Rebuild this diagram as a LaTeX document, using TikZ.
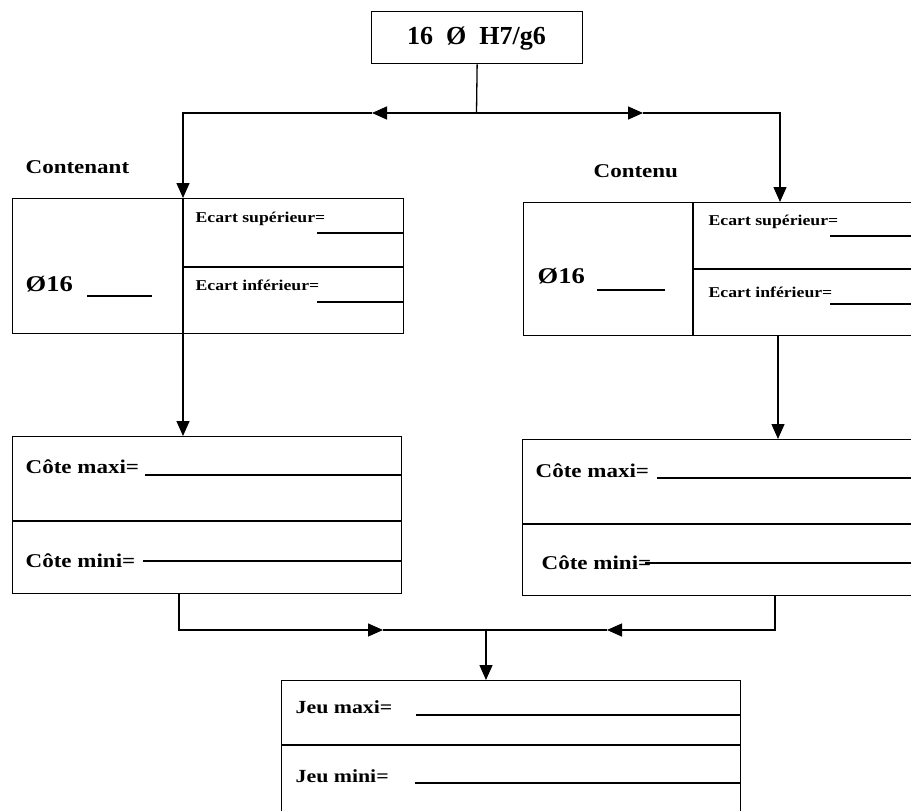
\documentclass[tikz,border=0pt]{standalone}
\usepackage{fontspec}
\setmainfont{Liberation Serif}
\usetikzlibrary{arrows.meta}
\newcommand{\hs}[1]{\scalebox{1.18}[1]{#1}}
\begin{document}
\begin{tikzpicture}[x=1pt,y=-1pt,line width=1.3pt,
  box/.style={draw,rectangle,inner sep=0pt,anchor=north west},
  lbs/.style={anchor=base west,inner sep=0pt,font=\bfseries\fontsize{15}{17}\selectfont},
  lbm/.style={anchor=base west,inner sep=0pt,font=\bfseries\fontsize{19.5}{22}\selectfont},
  lbj/.style={anchor=base west,inner sep=0pt,font=\bfseries\fontsize{18.5}{21}\selectfont},
  lbd/.style={anchor=base west,inner sep=0pt,font=\bfseries\fontsize{22.5}{25}\selectfont},
  tip/.style={-{Triangle[length=15pt,width=13pt]}},
  uline/.style={line width=1.3pt}]
\useasboundingbox (0,0) rectangle (911,811);
\clip (0,0) rectangle (911,811);
% title
\node[box,minimum width=211pt,minimum height=52pt] (T) at (371,11) {};
\node[anchor=base,inner sep=0pt,font=\bfseries\fontsize{26}{28}\selectfont] (tt) at (476.5,45) {16\ \ Ø\ \ H7/g6};
% boxes
\node[box,minimum width=391pt,minimum height=135pt] (L1) at (12,198) {};
\node[box,minimum width=400pt,minimum height=133pt] (R1) at (523,202) {};
\node[box,minimum width=389pt,minimum height=157pt] (L2) at (12,436) {};
\node[box,minimum width=400pt,minimum height=156pt] (R2) at (522,439) {};
\node[box,minimum width=459pt,minimum height=140pt] (B) at (281,680) {};
% dividers
\draw (183,198) -- (183,333);
\draw (183,267) -- (403,267);
\draw (693,202) -- (693,335);
\draw (693,269) -- (915,269);
\draw (12,521) -- (401,521);
\draw (522,524) -- (915,524);
\draw (281,745) -- (740,745);
% headings
\node[lbm] (hc) at (25,173) {\hs{Contenant}};
\node[lbm] (hd) at (593,177) {\hs{Contenu}};
% left top box
\node[lbd] (ld) at (25,291) {\hs{Ø16}};
\draw[uline] (87,296) -- (152,296);
\node[lbs] (les) at (195,222) {\hs{Ecart supérieur=}};
\draw[uline] (317,233) -- (403,233);
\node[lbs] (lei) at (195,290) {\hs{Ecart inférieur=}};
\draw[uline] (317,302) -- (403,302);
% right top box
\node[lbd] (rd) at (537,283) {\hs{Ø16}};
\draw[uline] (597,290) -- (665,290);
\node[lbs] (res) at (708,225) {\hs{Ecart supérieur=}};
\draw[uline] (830,236) -- (915,236);
\node[lbs] (rei) at (708,297) {\hs{Ecart inférieur=}};
\draw[uline] (830,304) -- (915,304);
% middle boxes
\node[lbm] (lcx) at (25,473) {\hs{Côte maxi=}};
\draw[uline] (145,475) -- (401,475);
\node[lbm] (lcn) at (25,567) {\hs{Côte mini=}};
\draw[uline] (143,561) -- (401,561);
\node[lbm] (rcx) at (535,477) {\hs{Côte maxi=}};
\draw[uline] (657,478) -- (915,478);
\node[lbm] (rcn) at (541,569) {\hs{Côte mini=}};
\draw[uline] (645,563) -- (915,563);
% bottom box
\node[lbj] (jx) at (295,713) {\hs{Jeu maxi=}};
\draw[uline] (416,715) -- (740,715);
\node[lbj] (jn) at (295,782) {\hs{Jeu mini=}};
\draw[uline] (415,783) -- (740,783);
% connectors
\coordinate (t0) at (476.5,113);
\coordinate (la) at (372,113);
\coordinate (ra) at (643,113);
\coordinate (lc) at (183,113);
\coordinate (rc) at (780,113);
\draw (T.south) -- (t0);
\draw[tip] (t0) -- (la);
\draw[tip] (la) -- (lc) -- (lc |- L1.north);
\draw[tip] (t0) -- (ra);
\draw[tip] (ra) -- (rc) -- (rc |- R1.north);
\coordinate (l1b) at (183,333);
\coordinate (r1b) at (778,335);
\draw[tip] (l1b) -- (l1b |- L2.north);
\draw[tip] (r1b) -- (r1b |- R2.north);
\coordinate (l2b) at (179,593);
\coordinate (r2b) at (775,595);
\coordinate (jc) at (486,630);
\coordinate (ba) at (383,630);
\coordinate (bb) at (607,630);
\draw[tip] (l2b) -- (l2b |- jc) -- (ba);
\draw (ba) -- (jc);
\draw[tip] (r2b) -- (r2b |- jc) -- (bb);
\draw (bb) -- (jc);
\draw[tip] (jc) -- (jc |- B.north);
\end{tikzpicture}
\end{document}
